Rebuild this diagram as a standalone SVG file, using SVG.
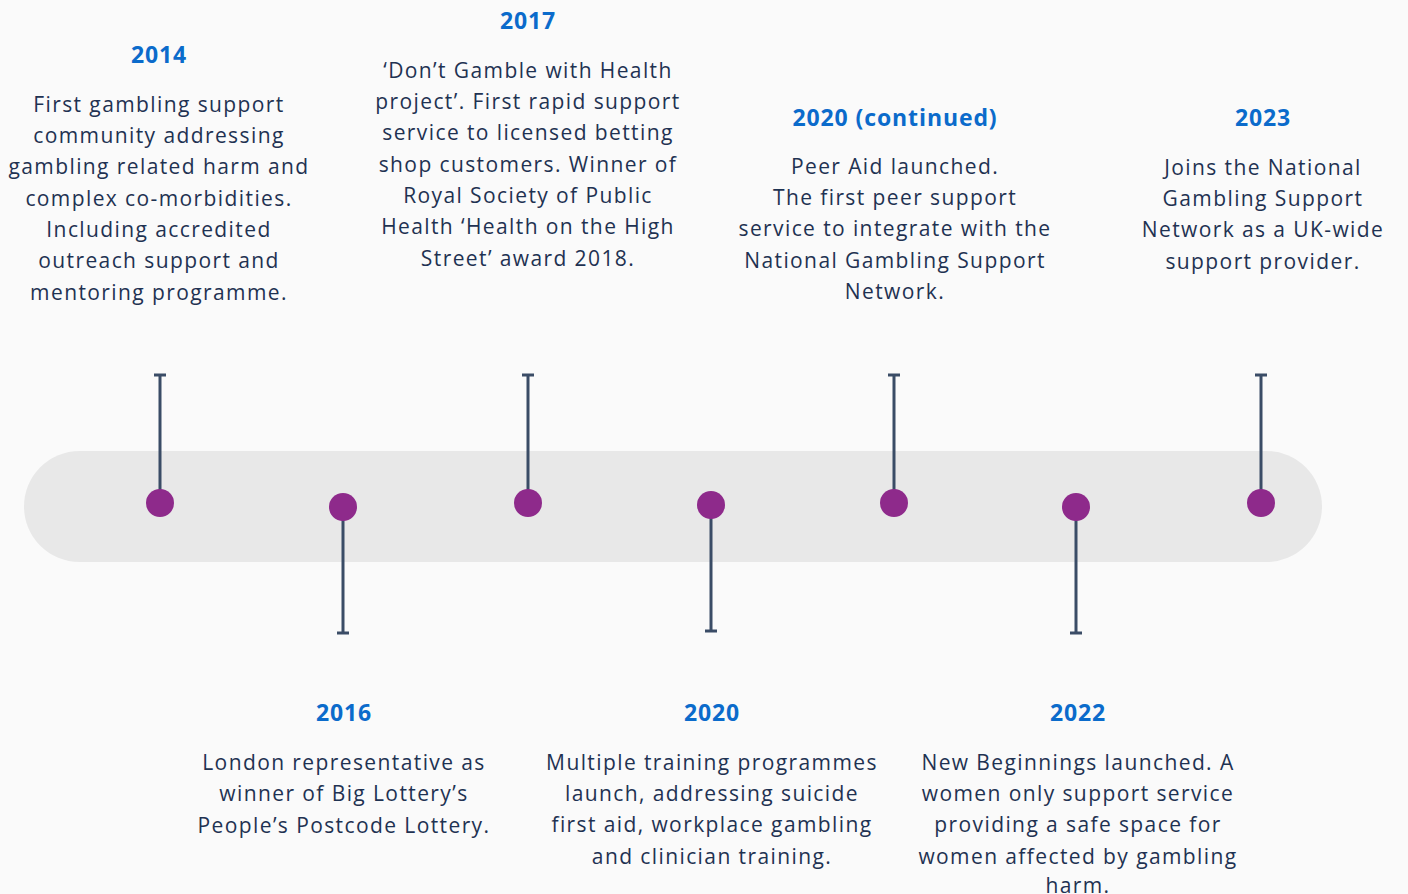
<svg xmlns="http://www.w3.org/2000/svg" width="1408" height="894" viewBox="0 0 1408 894">
<style>
.yr{font-family:"Open Sans","Liberation Sans",sans-serif;font-weight:700;font-size:23px;fill:#0b6bcb;text-anchor:middle;letter-spacing:0.9px}
.bd{font-family:"Open Sans","Liberation Sans",sans-serif;font-size:21px;fill:#1f3252;text-anchor:middle;letter-spacing:1.4px}
.stem{stroke:#3a4c66;stroke-width:3;fill:none}
.dot{fill:#8e2a8b}
</style>
<rect width="1408" height="894" fill="#fafafa"/>
<rect x="24" y="451" width="1298" height="111" rx="55.5" fill="#e8e8e8"/>
<g id="connectors">
<path class="stem" d="M160 375V503M154 375H166"/>
<path class="stem" d="M343 507V633M337 633H349"/>
<path class="stem" d="M528 375V503M522 375H534"/>
<path class="stem" d="M711 505V631M705 631H717"/>
<path class="stem" d="M894 375V503M888 375H900"/>
<path class="stem" d="M1076 507V633M1070 633H1082"/>
<path class="stem" d="M1261 375V503M1255 375H1267"/>
</g>
<g id="n2014">
<circle class="dot" cx="160" cy="503" r="14"/>
<text class="yr" x="159" y="63">2014</text>
<text class="bd" x="159" y="112">First gambling support</text>
<text class="bd" x="159" y="143">community addressing</text>
<text class="bd" x="159" y="174">gambling related harm and</text>
<text class="bd" x="159" y="206">complex co-morbidities.</text>
<text class="bd" x="159" y="237">Including accredited</text>
<text class="bd" x="159" y="268">outreach support and</text>
<text class="bd" x="159" y="300">mentoring programme.</text>
</g>
<g id="n2016">
<circle class="dot" cx="343" cy="507" r="14"/>
<text class="yr" x="344" y="721">2016</text>
<text class="bd" x="344" y="770">London representative as</text>
<text class="bd" x="344" y="801">winner of Big Lottery’s</text>
<text class="bd" x="344" y="833">People’s Postcode Lottery.</text>
</g>
<g id="n2017">
<circle class="dot" cx="528" cy="503" r="14"/>
<text class="yr" x="528" y="29">2017</text>
<text class="bd" x="528" y="78">‘Don’t Gamble with Health</text>
<text class="bd" x="528" y="109">project’. First rapid support</text>
<text class="bd" x="528" y="140">service to licensed betting</text>
<text class="bd" x="528" y="172">shop customers. Winner of</text>
<text class="bd" x="528" y="203">Royal Society of Public</text>
<text class="bd" x="528" y="234">Health ‘Health on the High</text>
<text class="bd" x="528" y="266">Street’ award 2018.</text>
</g>
<g id="n2020">
<circle class="dot" cx="711" cy="505" r="14"/>
<text class="yr" x="712" y="721">2020</text>
<text class="bd" x="712" y="770">Multiple training programmes</text>
<text class="bd" x="712" y="801">launch, addressing suicide</text>
<text class="bd" x="712" y="832">first aid, workplace gambling</text>
<text class="bd" x="712" y="864">and clinician training.</text>
</g>
<g id="n2020c">
<circle class="dot" cx="894" cy="503" r="14"/>
<text class="yr" x="895" y="126">2020 (continued)</text>
<text class="bd" x="895" y="174">Peer Aid launched.</text>
<text class="bd" x="895" y="205">The first peer support</text>
<text class="bd" x="895" y="236">service to integrate with the</text>
<text class="bd" x="895" y="268">National Gambling Support</text>
<text class="bd" x="895" y="299">Network.</text>
</g>
<g id="n2022">
<circle class="dot" cx="1076" cy="507" r="14"/>
<text class="yr" x="1078" y="721">2022</text>
<text class="bd" x="1078" y="770">New Beginnings launched. A</text>
<text class="bd" x="1078" y="801">women only support service</text>
<text class="bd" x="1078" y="832">providing a safe space for</text>
<text class="bd" x="1078" y="864">women affected by gambling</text>
<text class="bd" x="1078" y="893">harm.</text>
</g>
<g id="n2023">
<circle class="dot" cx="1261" cy="503" r="14"/>
<text class="yr" x="1263" y="126">2023</text>
<text class="bd" x="1263" y="175">Joins the National</text>
<text class="bd" x="1263" y="206">Gambling Support</text>
<text class="bd" x="1263" y="237">Network as a UK-wide</text>
<text class="bd" x="1263" y="269">support provider.</text>
</g>
</svg>
